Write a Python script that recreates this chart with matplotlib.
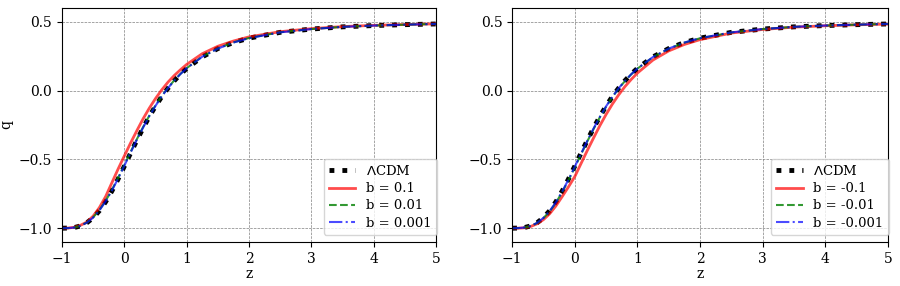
import matplotlib
matplotlib.use("Agg")
import matplotlib.pyplot as plt
import numpy as np

plt.rcParams['font.family'] = ['DejaVu Serif']
plt.rcParams['font.size'] = 10

z = [-1.0, -0.9, -0.8, -0.7, -0.6, -0.5, -0.4, -0.3, -0.2, -0.1, 0.0, 0.1, 0.2, 0.3, 0.4, 0.5,
     0.6, 0.7, 0.8, 0.9, 1.0, 1.25, 1.5, 1.75, 2.0, 2.5, 3.0, 3.5, 4.0, 4.5, 5.0]

q_lcdm = [-1.0, -0.999, -0.995, -0.983, -0.960, -0.924, -0.873, -0.808, -0.730, -0.643, -0.550,
          -0.455, -0.362, -0.273, -0.189, -0.113, -0.044, 0.017, 0.071, 0.119, 0.161, 0.245,
          0.305, 0.349, 0.381, 0.423, 0.447, 0.463, 0.4725, 0.479, 0.484]

# left panel (b > 0)
q_b01 = [-1.0, -0.999, -0.993, -0.978, -0.955, -0.912, -0.850, -0.770, -0.670, -0.570, -0.475,
         -0.381, -0.292, -0.206, -0.128, -0.058, 0.005, 0.061, 0.109, 0.151, 0.190, 0.268,
         0.322, 0.360, 0.390, 0.428, 0.450, 0.465, 0.474, 0.480, 0.485]
q_b001 = [-1.0, -0.999, -0.995, -0.982, -0.958, -0.921, -0.868, -0.801, -0.722, -0.634, -0.541,
          -0.446, -0.354, -0.266, -0.183, -0.108, -0.040, 0.020, 0.074, 0.121, 0.163, 0.247,
          0.306, 0.350, 0.382, 0.424, 0.447, 0.463, 0.4725, 0.479, 0.484]
q_b0001 = [-1.0, -0.999, -0.995, -0.983, -0.959, -0.923, -0.871, -0.805, -0.727, -0.639, -0.546,
           -0.451, -0.358, -0.270, -0.186, -0.111, -0.042, 0.018, 0.072, 0.120, 0.162, 0.246,
           0.305, 0.349, 0.381, 0.423, 0.447, 0.463, 0.4725, 0.479, 0.484]

# right panel (b < 0)
q_bm01 = [-1.0, -1.0, -0.997, -0.987, -0.968, -0.938, -0.895, -0.838, -0.770, -0.700, -0.626,
          -0.531, -0.436, -0.345, -0.256, -0.174, -0.099, -0.032, 0.028, 0.080, 0.127, 0.222,
          0.288, 0.335, 0.370, 0.418, 0.444, 0.461, 0.471, 0.478, 0.483]
q_bm001 = [-1.0, -0.999, -0.995, -0.984, -0.962, -0.927, -0.878, -0.815, -0.738, -0.652, -0.559,
           -0.464, -0.370, -0.280, -0.195, -0.118, -0.048, 0.014, 0.068, 0.117, 0.159, 0.243,
           0.304, 0.348, 0.380, 0.422, 0.447, 0.463, 0.4725, 0.479, 0.484]
q_bm0001 = [-1.0, -0.999, -0.995, -0.983, -0.961, -0.925, -0.875, -0.811, -0.733, -0.647, -0.554,
            -0.459, -0.366, -0.276, -0.192, -0.115, -0.046, 0.016, 0.070, 0.118, 0.160, 0.244,
            0.305, 0.349, 0.381, 0.423, 0.447, 0.463, 0.4725, 0.479, 0.484]

labels_left = ["b = 0.1", "b = 0.01", "b = 0.001"]
labels_right = ["b = -0.1", "b = -0.01", "b = -0.001"]

fig = plt.figure(figsize=(9, 2.86), dpi=100)
ax1 = fig.add_axes([0.0689, 0.154, 0.4155, 0.818])
ax2 = fig.add_axes([0.569, 0.154, 0.4175, 0.818])

def panel(ax, s1, s2, s3, labels, ylabel):
    ax.plot(z, q_lcdm, color='black', linestyle=':', linewidth=3.5, label=r'$\Lambda$CDM')
    ax.plot(z, s1, color='red', linestyle='-', linewidth=2, alpha=0.7, label=labels[0])
    ax.plot(z, s2, color='green', linestyle='--', linewidth=1.5, alpha=0.8, label=labels[1])
    ax.plot(z, s3, color='blue', linestyle='-.', linewidth=1.5, alpha=0.7, label=labels[2])
    ax.set_xlim(-1, 5)
    ax.set_ylim(-1.1, 0.6)
    ax.set_xticks([-1, 0, 1, 2, 3, 4, 5])
    ax.set_yticks([-1.0, -0.5, 0.0, 0.5])
    ax.grid(True, color='gray', linestyle='--', linewidth=0.5)
    ax.set_xlabel('z', labelpad=1)
    if ylabel:
        ax.set_ylabel('q')
    ax.legend(loc='lower right', bbox_to_anchor=(1.002, 0.03), borderaxespad=0,
              fontsize=9.5, handlelength=2.0, borderpad=0.4, labelspacing=0.32)

panel(ax1, q_b01, q_b001, q_b0001, labels_left, True)
panel(ax2, q_bm01, q_bm001, q_bm0001, labels_right, False)

fig.savefig('out.png', dpi=100)
